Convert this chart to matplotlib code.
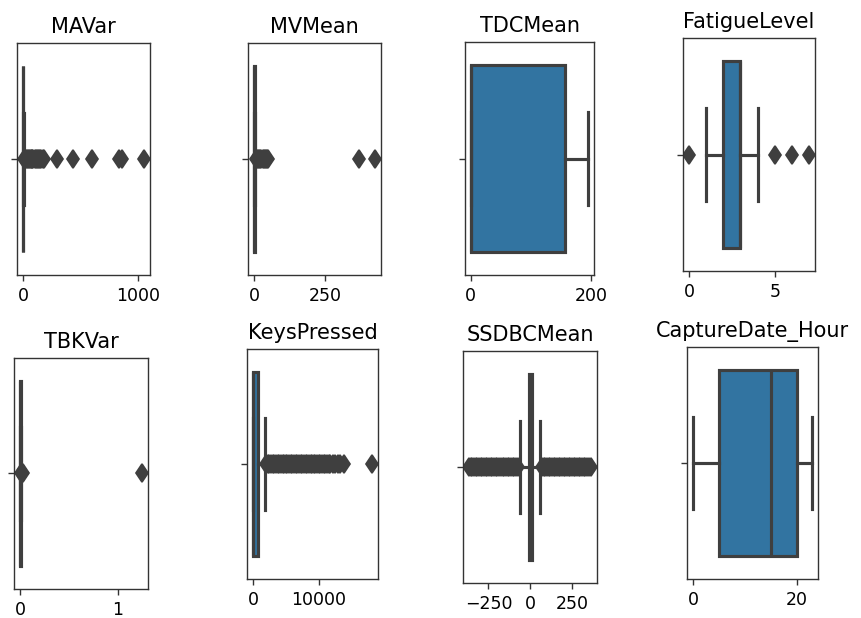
import matplotlib
matplotlib.use("Agg")
import matplotlib.pyplot as plt

# one box per column
columns = ["MAVar", "MVMean", "TDCMean", "FatigueLevel",
           "TBKVar", "KeysPressed", "SSDBCMean", "CaptureDate_Hour"]
whisker_low = [0, 0, 0, 1, 0, 0, -64, 0]
quartile_1 = [0, 0, 0, 2, 0.002, 0, -8, 5]
median = [1, 1, 0, 3, 0.004, 80, 0, 15]
quartile_3 = [3, 2, 157, 3, 0.006, 830, 8, 20]
whisker_high = [8, 5, 195, 4, 0.01, 1900, 56, 23]

mavar_fliers = [10, 18, 26, 34, 42, 50, 58, 66, 74, 82, 90, 100, 110, 120,
                130, 140, 150, 160, 170, 180, 295, 433, 600, 832, 856, 1050]
mvmean_fliers = [7, 10, 14, 18, 22, 26, 30, 34, 38, 42, 46, 50, 368, 425]
tdcmean_fliers = []
fatigue_fliers = [0, 5, 6, 7]
tbkvar_fliers = [0.012, 0.016, 0.02, 0.024, 0.028, 1.245]
keys_fliers = [2000, 2250, 2500, 2750, 3000, 3250, 3500, 3750, 4000, 4250,
               4500, 4750, 5000, 5250, 5500, 5750, 6000, 6250, 6500, 6750,
               7000, 7250, 7500, 7750, 8000, 8250, 8500, 8750, 9000, 9250,
               9500, 9750, 10000, 10250, 10500, 10750, 11000, 11250, 11500,
               11700, 12100, 12500, 12900, 13300, 13900, 18100]
ssdbc_fliers = [-366, -356, -346, -336, -326, -316, -306, -296, -286, -276,
                -266, -256, -246, -236, -226, -216, -206, -196, -186, -176,
                -166, -156, -146, -136, -126, -116, -106, -96, -86, -76,
                70, 80, 90, 100, 110, 120, 130, 140, 150, 160, 170, 180,
                190, 200, 210, 220, 230, 240, 250, 260, 270, 280, 290, 300,
                310, 320, 330, 340, 350, 363]
hour_fliers = []
fliers = [mavar_fliers, mvmean_fliers, tdcmean_fliers, fatigue_fliers,
          tbkvar_fliers, keys_fliers, ssdbc_fliers, hour_fliers]

xticks = [[0, 1000], [0, 250], [0, 200], [0, 5],
          [0, 1], [0, 10000], [-250, 0, 250], [0, 20]]

W, H = 861, 618
boxes = [(17, 43, 150, 275), (248, 43, 381, 275), (465, 42, 594, 275), (683, 38, 815, 271),
         (14, 358, 148, 589), (247, 349, 378, 579), (463, 351, 597, 583), (687, 347, 818, 579)]

box_color = "#3274a1"
gray = "#3f3f3f"
lw = 1.8

fig = plt.figure(figsize=(W / 125, H / 125), dpi=125)

for i, name in enumerate(columns):
    l, t, r, b = boxes[i]
    ax = fig.add_axes([l / W, 1 - b / H, (r - l) / W, (b - t) / H])
    stats = [{
        "whislo": whisker_low[i],
        "q1": quartile_1[i],
        "med": median[i],
        "q3": quartile_3[i],
        "whishi": whisker_high[i],
        "fliers": fliers[i],
    }]
    ax.bxp(
        stats,
        positions=[0],
        widths=0.8,
        orientation="horizontal",
        patch_artist=True,
        manage_ticks=False,
        boxprops=dict(facecolor=box_color, edgecolor=gray, linewidth=lw),
        whiskerprops=dict(color=gray, linewidth=lw),
        capprops=dict(color=gray, linewidth=lw),
        medianprops=dict(color=gray, linewidth=lw),
        flierprops=dict(marker="d", markerfacecolor=gray, markeredgecolor=gray,
                        markersize=7.5, linestyle="none"),
    )
    ax.set_ylim(0.5, -0.5)
    ax.set_yticks([0])
    ax.set_yticklabels([""])
    ax.set_xticks(xticks[i])
    ax.tick_params(labelsize=10, color="#333333")
    for spine in ax.spines.values():
        spine.set_color("#333333")
    ax.set_title(name, fontsize=12)

fig.savefig("out.png", dpi=125)
